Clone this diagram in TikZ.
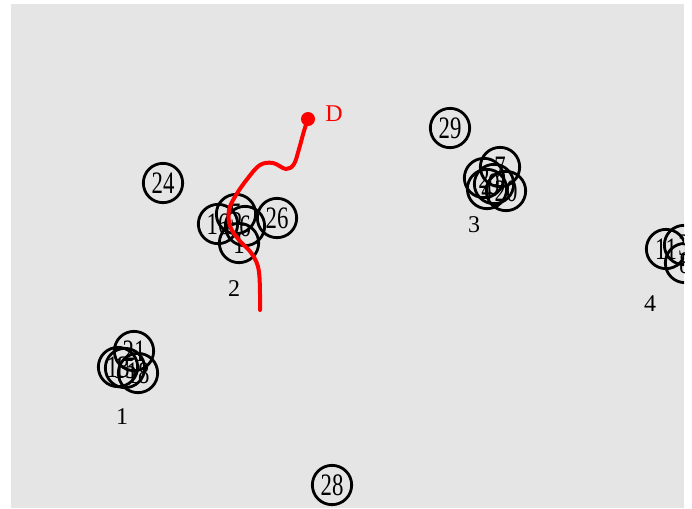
\documentclass[tikz,border=0pt]{standalone}
\usepackage{fontspec}
\setmainfont{Liberation Serif}
\usepackage{tikz}
\usetikzlibrary{positioning}
\definecolor{cpanel}{HTML}{E5E5E5}
\definecolor{croute}{HTML}{FF0000}
\tikzset{
  site/.style={circle, draw=black, line width=2.1pt, minimum size=29.5pt, inner sep=0pt,
    font=\fontsize{18}{18}\selectfont},
  grp/.style={font=\fontsize{18}{18}\selectfont, text=black},
  route/.style={draw=croute, line width=3pt, line cap=round},
  dest/.style={circle, fill=croute, inner sep=0pt, minimum size=10.5pt},
}
\newcommand{\tall}[1]{\scalebox{0.95}[1.3]{#1}}

\begin{document}
\begin{tikzpicture}[x=0.75pt,y=-0.75pt]
\useasboundingbox (0,0) rectangle (692,508);
\fill[cpanel] (11,4) rectangle (684,508);
\begin{scope}
\clip (11,4) rectangle (684,508);
% lone sites
\node[site] (s24) at (163,183) {\tall{24}};
\node[site] (s29) at (450,128) {\tall{29}};
\node[site] (s28) at (332,485) {\tall{28}};
% group 1
\node[site] (s21) at (134,351) {\tall{21}};
\node[site] (s13) at (118,367) {\tall{13}};
\node[site] (s15) at (125,368) {\tall{15}};
\node[site] (s18) at (138,373) {\tall{18}};
\node[grp] (g1) at (122,417) {1};
% group 2
\node[site] (s16) at (218,224) {\tall{16}};
\node[site] (s5) at (236,214) {\tall{5}};
\node[site] (s6) at (245,226) {\tall{6}};
\node[site] (s1) at (239,243) {\tall{1}};
\node[site] (s26) at (277,218) {\tall{26}};
\node[grp] (g2) at (234,289) {2};
% group 3
\node[site] (s7) at (500,167) {\tall{7}};
\node[site] (s2) at (484,178) {\tall{2}};
\node[site] (s9) at (494,184) {\tall{9}};
\node[site] (s4) at (487,189) {\tall{4}};
\node[site] (s20) at (506,191) {\tall{20}};
\node[grp] (g3) at (474,225) {3};
% group 4
\node[site] (s11) at (666,249) {\tall{11}};
\node[site] (s3) at (684,245) {\tall{3}};
\node[site] (s8) at (685,263) {\tall{8}};
\node[grp] (g4) at (650,304) {4};
\end{scope}
% route to D
\node[dest] (D) at (308,119) {};
\node[grp, text=croute, right=4pt of D, yshift=4pt] (Dl) {D};
\coordinate (start) at (260,310);
\draw[route] plot[smooth, tension=0.6] coordinates {(start) (259,272) (252,254) (239,240) (230,226) (229,210) (236,195) (248,178) (260,165) (273,163) (286,169) (294,164) (299,149) (304,131) (D)};
\end{tikzpicture}
\end{document}
